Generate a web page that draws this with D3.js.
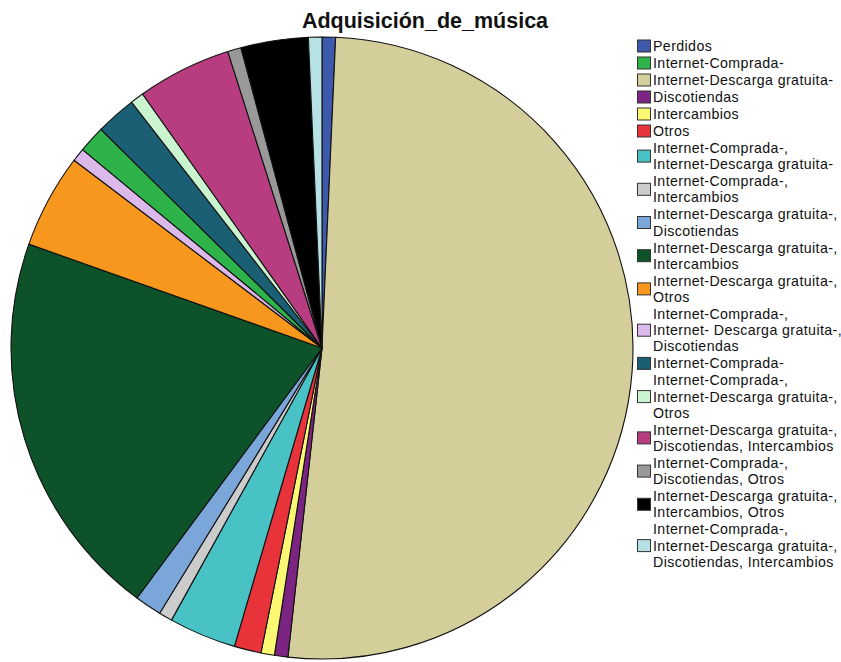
<!DOCTYPE html>
<html>
<head>
<meta charset="utf-8">
<script src="https://cdn.jsdelivr.net/npm/d3@7"></script>
<style>
  body { margin: 0; background: #fff; }
  svg { display: block; font-family: "Liberation Sans", Arial, sans-serif; }
</style>
</head>
<body>
<svg id="chart" width="841" height="662"></svg>
<script>
// legend order
const categories = [
    ["Perdidos"],
    ["Internet-Comprada-"],
    ["Internet-Descarga gratuita-"],
    ["Discotiendas"],
    ["Intercambios"],
    ["Otros"],
    ["Internet-Comprada-,", "Internet-Descarga gratuita-"],
    ["Internet-Comprada-,", "Intercambios"],
    ["Internet-Descarga gratuita-,", "Discotiendas"],
    ["Internet-Descarga gratuita-,", "Intercambios"],
    ["Internet-Descarga gratuita-,", "Otros"],
    ["Internet-Comprada-,", "Internet- Descarga gratuita-,", "Discotiendas"],
    ["Internet-Comprada-"],
    ["Internet-Comprada-,", "Internet-Descarga gratuita-,", "Otros"],
    ["Internet-Descarga gratuita-,", "Discotiendas, Intercambios"],
    ["Internet-Comprada-,", "Discotiendas, Otros"],
    ["Internet-Descarga gratuita-,", "Intercambios, Otros"],
    ["Internet-Comprada-,", "Internet-Descarga gratuita-,", "Discotiendas, Intercambios"]
];
const counts = [1, 2, 73, 1, 1, 2, 5, 1, 2, 29, 7, 1, 3, 1, 7, 1, 5, 1];
const colors = ["#3d59ab", "#2db34a", "#d4cf9a", "#7b2481", "#fbf873", "#e8333a",
    "#48c2c5", "#cccccc", "#7ba6da", "#0e5229", "#f7971d", "#dbb9ea",
    "#1a5f74", "#c9f4cf", "#b83d80", "#999999", "#000000", "#b6e2e6"];
// order in which slices are drawn clockwise from 12 o'clock
const sliceOrder = [0, 2, 3, 4, 5, 6, 7, 8, 9, 10, 11, 1, 12, 13, 14, 15, 16, 17];

const svg = d3.select("#chart");

svg.append("text")
    .attr("x", 425)
    .attr("y", 28)
    .attr("text-anchor", "middle")
    .attr("font-size", 21.5)
    .attr("font-weight", "bold")
    .attr("fill", "#111")
    .text("Adquisición_de_música");

const cx = 322, cy = 348, radius = 311;

const pie = d3.pie().sort(null).value(i => counts[i]);
const arc = d3.arc().innerRadius(0).outerRadius(radius);

const g = svg.append("g").attr("transform", `translate(${cx},${cy})`);

g.selectAll("path")
    .data(pie(sliceOrder))
    .enter()
    .append("path")
    .attr("d", arc)
    .attr("fill", d => colors[d.data])
    .attr("stroke", "#111")
    .attr("stroke-width", 1.1)
    .attr("stroke-linejoin", "round");

// legend
const lineH = 16.2, gap = 0.8;
const legend = svg.append("g").attr("transform", "translate(637,0)");
let y = 46;
categories.forEach((lines, i) => {
    const top = y;
    const mid = top + (lines.length - 1) * lineH / 2;
    legend.append("rect")
        .attr("x", 0.5)
        .attr("y", mid - 6)
        .attr("width", 13)
        .attr("height", 12)
        .attr("fill", colors[i])
        .attr("stroke", "#333")
        .attr("stroke-width", 1);
    lines.forEach((t, k) => {
        legend.append("text")
            .attr("x", 16)
            .attr("y", top + k * lineH)
            .attr("dy", "0.35em")
            .attr("font-size", 14.2)
            .attr("letter-spacing", 0.4)
            .attr("fill", "#111")
            .text(t);
    });
    y += lines.length * lineH + gap;
});
</script>
</body>
</html>
